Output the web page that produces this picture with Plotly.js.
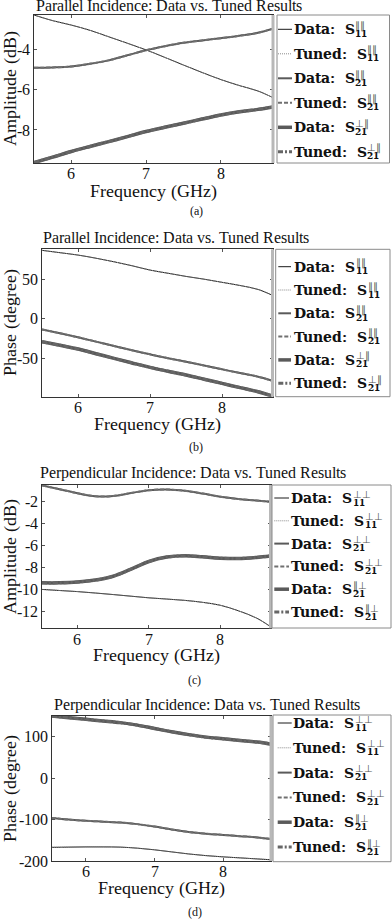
<!DOCTYPE html>
<html><head><meta charset="utf-8">
<script src="https://cdn.plot.ly/plotly-3.0.1.min.js"></script>
<style>
@font-face { font-family: 'RefSerif'; src: local('Liberation Serif'), local('LiberationSerif-Regular'); font-weight: 400; font-style: normal; }
@font-face { font-family: 'RefSerif'; src: local('Liberation Serif Bold'), local('LiberationSerif-Bold'); font-weight: 700; font-style: normal; }
@font-face { font-family: 'LegSerif'; src: local('DejaVu Serif'), local('DejaVuSerif'); font-weight: 400; }
@font-face { font-family: 'LegSerif'; src: local('DejaVu Serif Bold'), local('DejaVuSerif-Bold'); font-weight: 700; }
@font-face { font-family: 'SymSans'; src: local('DejaVu Sans'), local('DejaVuSans'); font-weight: 400; }
html,body{margin:0;padding:0;background:#fff}
#chart{width:392px;height:920px}
</style>
</head><body><div id="chart"></div>
<script>
// ---------------- DATA ----------------
const freqGHz = [5.5, 5.75, 6.0, 6.25, 6.5, 6.75, 7.0, 7.25, 7.5, 7.75, 8.0, 8.25, 8.5, 8.7];

// (a) Parallel incidence, amplitude (dB)
const parAmpDataS11   = [-2.30, -2.58, -2.80, -3.06, -3.38, -3.70, -4.03, -4.40, -4.78, -5.15, -5.50, -5.80, -6.07, -6.40];
const parAmpTunedS11  = [-2.30, -2.58, -2.80, -3.06, -3.38, -3.70, -4.03, -4.40, -4.78, -5.15, -5.50, -5.80, -6.07, -6.40];
const parAmpDataS21   = [-4.92, -4.90, -4.85, -4.72, -4.55, -4.30, -4.05, -3.85, -3.68, -3.56, -3.45, -3.33, -3.18, -2.98];
const parAmpTunedS21  = [-4.92, -4.90, -4.85, -4.72, -4.55, -4.30, -4.05, -3.85, -3.68, -3.56, -3.45, -3.33, -3.18, -2.98];
const parAmpDataS21x  = [-9.62, -9.35, -9.07, -8.82, -8.58, -8.33, -8.08, -7.87, -7.67, -7.46, -7.26, -7.10, -6.98, -6.86];
const parAmpTunedS21x = [-9.62, -9.35, -9.07, -8.82, -8.58, -8.33, -8.08, -7.87, -7.67, -7.46, -7.26, -7.10, -6.98, -6.86];

// (b) Parallel incidence, phase (degree)
const parPhDataS11   = [86.5, 83.5, 80.5, 76.5, 72.0, 67.0, 61.5, 57.5, 53.5, 50.0, 46.0, 42.0, 37.0, 29.5];
const parPhTunedS11  = [86.5, 83.5, 80.5, 76.5, 72.0, 67.0, 61.5, 57.5, 53.5, 50.0, 46.0, 42.0, 37.0, 29.5];
const parPhDataS21   = [-13.5, -18.5, -23.6, -29.0, -34.6, -40.0, -45.1, -50.0, -54.4, -59.2, -64.1, -68.8, -73.4, -78.5];
const parPhTunedS21  = [-13.5, -18.5, -23.6, -29.0, -34.6, -40.0, -45.1, -50.0, -54.4, -59.2, -64.1, -68.8, -73.4, -78.5];
const parPhDataS21x  = [-29.1, -33.7, -38.4, -44.3, -50.2, -56.0, -61.6, -66.5, -71.3, -76.6, -81.9, -87.2, -92.4, -97.9];
const parPhTunedS21x = [-29.1, -33.7, -38.4, -44.3, -50.2, -56.0, -61.6, -66.5, -71.3, -76.6, -81.9, -87.2, -92.4, -97.9];

// (c) Perpendicular incidence, amplitude (dB)
const perpAmpDataS11   = [-10.00, -10.10, -10.20, -10.33, -10.47, -10.62, -10.77, -10.88, -11.00, -11.18, -11.45, -11.95, -12.60, -13.40];
const perpAmpTunedS11  = [-10.00, -10.10, -10.20, -10.33, -10.47, -10.62, -10.77, -10.88, -11.00, -11.18, -11.45, -11.95, -12.60, -13.40];
const perpAmpDataS21   = [-0.50, -0.85, -1.22, -1.50, -1.47, -1.20, -0.95, -0.88, -1.00, -1.25, -1.55, -1.75, -1.88, -2.00];
const perpAmpTunedS21  = [-0.50, -0.85, -1.22, -1.50, -1.47, -1.20, -0.95, -0.88, -1.00, -1.25, -1.55, -1.75, -1.88, -2.00];
const perpAmpDataS21x  = [-9.40, -9.40, -9.33, -9.15, -8.80, -8.15, -7.45, -7.05, -6.93, -7.02, -7.15, -7.18, -7.08, -6.95];
const perpAmpTunedS21x = [-9.40, -9.40, -9.33, -9.15, -8.80, -8.15, -7.45, -7.05, -6.93, -7.02, -7.15, -7.18, -7.08, -6.95];

// (d) Perpendicular incidence, phase (degree)
const perpPhDataS11   = [-167, -166.5, -166, -166, -166.5, -169, -173, -178, -183, -187, -190, -192.5, -195, -197];
const perpPhTunedS11  = [-167, -166.5, -166, -166, -166.5, -169, -173, -178, -183, -187, -190, -192.5, -195, -197];
const perpPhDataS21   = [-96, -100, -103, -105, -107, -111, -117, -124, -130, -134, -137, -140, -143, -147];
const perpPhTunedS21  = [-96, -100, -103, -105, -107, -111, -117, -124, -130, -134, -137, -140, -143, -147];
const perpPhDataS21x  = [150, 146, 142, 138, 134, 128, 120, 112, 105, 99, 95, 91, 87, 82];
const perpPhTunedS21x = [150, 146, 142, 138, 134, 128, 120, 112, 105, 99, 95, 91, 87, 82];

// tick labels
const xTickVals = [6, 7, 8];
const xTickText = ["6", "7", "8"];
const aYTickVals = [-8, -6, -4];
const aYTickText = ["-8", "-6", "-4"];
const bYTickVals = [-50, 0, 50];
const bYTickText = ["-50", "0", "50"];
const cYTickVals = [-12, -10, -8, -6, -4, -2];
const cYTickText = ["-12", "-10", "-8", "-6", "-4", "-2"];
const dYTickVals = [-200, -100, 0, 100];
const dYTickText = ["-200", "-100", "0", "100"];

// texts
const panelTitles = ["Parallel Incidence: Data vs. Tuned Results", "Parallel Incidence: Data vs. Tuned Results",
                     "Perpendicular Incidence: Data vs. Tuned Results", "Perpendicular Incidence: Data vs. Tuned Results"];
const panelCaptions = ["(a)", "(b)", "(c)", "(d)"];
const xAxisTitle = "Frequency (GHz)";
const yAxisTitles = ["Amplitude (dB)", "Phase (degree)", "Amplitude (dB)", "Phase (degree)"];
const legendKinds = ["Data:", "Tuned:", "Data:", "Tuned:", "Data:", "Tuned:"];
const legendSubs = ["11", "11", "21", "21", "21", "21"];
const legendSupsPar = ["\u2225\u2225", "\u2225\u2225", "\u2225\u2225", "\u2225\u2225", "\u22A5\u2225", "\u22A5\u2225"];
const legendSupsPerp = ["\u22A5\u22A5", "\u22A5\u22A5", "\u22A5\u22A5", "\u22A5\u22A5", "\u2225\u22A5", "\u2225\u22A5"];

// ---------------- STYLE / LAYOUT ----------------
const W = 392, H = 920;
const lineStyles = [
  {color: '#1a1a1a', width: 1,   dash: 'solid'},
  {color: '#8a8a8a', width: 1,   dash: '1px,1px'},
  {color: '#5a5a5a', width: 2,   dash: 'solid'},
  {color: '#707070', width: 2,   dash: '4px,2px'},
  {color: '#5a5a5a', width: 3.5, dash: 'solid'},
  {color: '#666666', width: 3,   dash: '5px,2px,2px,2px'}
];
const panels = [
  {l: 34, r: 273, t: 15, b: 163, yr: [-9.64, -2.30], tv: aYTickVals, tt: aYTickText,
   series: [parAmpDataS11, parAmpTunedS11, parAmpDataS21, parAmpTunedS21, parAmpDataS21x, parAmpTunedS21x],
   sups: legendSupsPar, title: [168.5, 5], cap: [196, 211], xt: 190.5, ystand: 7,
   leg: {x0: 277, x1: 389.5, y0: 15, y1: 163, e0: 29.3, de: 24.5, s0: 278, s1: 292, tx: 293.5}},
  {l: 42, r: 272.5, t: 249.3, b: 396.7, yr: [-98.7, 87.8], tv: bYTickVals, tt: bYTickText,
   series: [parPhDataS11, parPhTunedS11, parPhDataS21, parPhTunedS21, parPhDataS21x, parPhTunedS21x],
   sups: legendSupsPar, title: [175.7, 238], cap: [196, 447], xt: 423.5, ystand: 15,
   leg: {x0: 275.7, x1: 390, y0: 249.3, y1: 396.7, e0: 266.7, de: 23.3, s0: 278.3, s1: 291, tx: 294}},
  {l: 41.7, r: 270.5, t: 485, b: 628.3, yr: [-13.55, -0.47], tv: cYTickVals, tt: cYTickText,
   series: [perpAmpDataS11, perpAmpTunedS11, perpAmpDataS21, perpAmpTunedS21, perpAmpDataS21x, perpAmpTunedS21x],
   sups: legendSupsPerp, title: [193, 472], cap: [194, 680], xt: 654.5, ystand: 14.5,
   leg: {x0: 272, x1: 391, y0: 485, y1: 628, e0: 498, de: 22.8, s0: 274.3, s1: 289, tx: 291}},
  {l: 51.7, r: 271, t: 716, b: 861, yr: [-200, 150], tv: dYTickVals, tt: dYTickText,
   series: [perpPhDataS11, perpPhTunedS11, perpPhDataS21, perpPhTunedS21, perpPhDataS21x, perpPhTunedS21x],
   sups: legendSupsPerp, title: [206.7, 704], cap: [195, 912], xt: 887.5, ystand: 26,
   leg: {x0: 273, x1: 391, y0: 715, y1: 861.7, e0: 723, de: 24.8, s0: 277.7, s1: 291.7, tx: 293}}
];
const serif = 'RefSerif, "Liberation Serif", serif';
const legSerif = 'LegSerif, "DejaVu Serif", serif';
const px = v => v / W;
const py = v => 1 - v / H;
const ctx = document.createElement('canvas').getContext('2d');
function textWidth(str, font) { ctx.font = font; return ctx.measureText(str).width; }

function buildFigure() {
  const traces = [];
  const layout = {
    width: W, height: H, margin: {l: 0, r: 0, t: 0, b: 0},
    paper_bgcolor: '#ffffff', plot_bgcolor: '#ffffff', showlegend: false,
    font: {family: serif, color: '#111111'},
    annotations: [], shapes: []
  };
  panels.forEach((p, i) => {
    const sfx = i === 0 ? '' : String(i + 1);
    const xId = 'x' + sfx, yId = 'y' + sfx;
    const common = () => ({
      ticks: 'inside', ticklen: 3, tickcolor: '#555', tickwidth: 1,
      showline: true, linecolor: '#333', linewidth: 1, mirror: 'ticks',
      showgrid: false, zeroline: false, automargin: false, fixedrange: true,
      tickfont: {family: serif, size: 16, color: '#111'}
    });
    layout['xaxis' + sfx] = Object.assign(common(), {
      domain: [px(p.l), px(p.r)], range: [5.5, 8.7], anchor: yId,
      tickmode: 'array', tickvals: xTickVals, ticktext: xTickText, ticklabelstandoff: -4
    });
    layout['yaxis' + sfx] = Object.assign(common(), {
      domain: [py(p.b), py(p.t)], range: p.yr, anchor: xId,
      tickmode: 'array', tickvals: p.tv, ticktext: p.tt,
      title: {text: yAxisTitles[i], font: {family: serif, size: 17.5, color: '#111'}, standoff: p.ystand}
    });
    p.series.forEach((ys, k) => {
      const st = lineStyles[k];
      traces.push({
        type: 'scatter', mode: 'lines', x: freqGHz, y: ys, xaxis: xId, yaxis: yId,
        line: {color: st.color, width: st.width, dash: st.dash, shape: 'spline', smoothing: 1},
        hoverinfo: 'skip', showlegend: false
      });
    });
    layout.shapes.push({type: 'line', xref: xId + ' domain', yref: yId + ' domain',
      x0: 1, x1: 1, y0: 0, y1: 1, line: {color: '#b8b8b8', width: 3}});
    const ann = (x, y, text, font, xa) => layout.annotations.push({xref: 'paper', yref: 'paper',
      x: px(x), y: py(y), xanchor: xa || 'center', yanchor: 'middle', showarrow: false, align: 'left',
      borderpad: 0, borderwidth: 0, text: text, font: font});
    ann(p.title[0], p.title[1], panelTitles[i], {family: serif, size: 15.5, color: '#111'});
    ann((p.l + p.r) / 2, p.xt, xAxisTitle, {family: serif, size: 17.5, color: '#111'});
    ann(p.cap[0], p.cap[1], panelCaptions[i], {family: serif, size: 12, color: '#111'});
    const L = p.leg;
    layout.shapes.push({type: 'rect', xref: 'paper', yref: 'paper',
      x0: px(L.x0), x1: px(L.x1), y0: py(L.y1), y1: py(L.y0),
      line: {color: '#8a8a8a', width: 1}, fillcolor: 'rgba(0,0,0,0)'});
    legendKinds.forEach((kind, k) => {
      const cy = L.e0 + k * L.de;
      const st = lineStyles[k];
      layout.shapes.push({type: 'line', xref: 'paper', yref: 'paper',
        x0: px(L.s0), x1: px(L.s1), y0: py(cy), y1: py(cy),
        line: {color: st.color, width: st.width, dash: st.dash}});
      const mainText = kind + '\u00a0 S';
      ann(L.tx, cy, '<b>' + mainText + '</b>', {family: legSerif, size: 13.5, color: '#111'}, 'left');
      const sx = L.tx + textWidth(mainText, 'bold 13.5px LegSerif, "DejaVu Serif"') + 0.5;
      const stacked = '<span style="font-family:SymSans;font-size:9.5px;color:#555">' + p.sups[k] +
        '</span><br><span style="font-size:8.5px"><b>' + legendSubs[k] + '</b></span>';
      ann(sx, cy, stacked, {family: legSerif, size: 6.5, color: '#111'}, 'left');
    });
  });
  return {traces, layout};
}
function draw() {
  const f = buildFigure();
  Plotly.newPlot('chart', f.traces, f.layout, {staticPlot: true, displayModeBar: false});
}
const loads = ['16px RefSerif', 'bold 16px RefSerif', '14px LegSerif', 'bold 14px LegSerif', '10px SymSans']
  .map(f => document.fonts.load(f, 'Ab1\u2225\u22A5').catch(() => null));
Promise.race([Promise.all(loads), new Promise(r => setTimeout(r, 1500))]).then(draw, draw);
</script>
</body></html>
